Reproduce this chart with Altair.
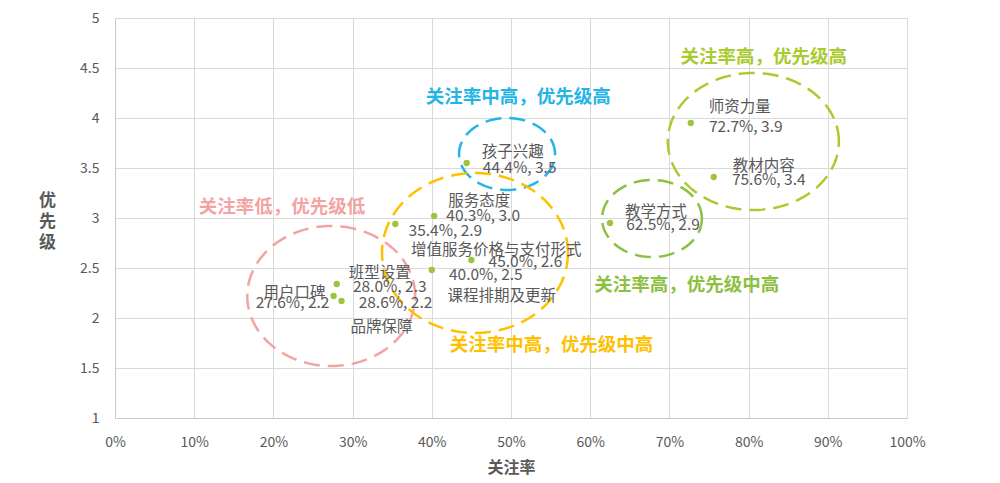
import altair as alt
import numpy as np
import pandas as pd

# ---- data ----
attention = [0.276, 0.280, 0.286, 0.354, 0.403, 0.400, 0.450, 0.444, 0.625, 0.727, 0.756]
priority = [2.22, 2.34, 2.17, 2.94, 3.02, 2.48, 2.58, 3.55, 2.95, 3.95, 3.41]
value_text = ["27.6%, 2.2", "28.0%, 2.3", "28.6%, 2.2", "35.4%, 2.9", "40.3%, 3.0",
              "40.0%, 2.5", "45.0%, 2.6", "44.4%, 3.5", "62.5%, 2.9", "72.7%, 3.9", "75.6%, 3.4"]
name_text = ["用户口碑", "班型设置", "品牌保障", "增值服务价格与支付形式", "服务态度",
             "课程排期及更新", "", "孩子兴趣", "教学方式", "师资力量", "教材内容"]

x_ticks = [i / 10 for i in range(11)]
y_ticks = [1, 1.5, 2, 2.5, 3, 3.5, 4, 4.5, 5]

group_labels = ["关注率中高，优先级高", "关注率高，优先级高", "关注率低，优先级低",
                "关注率高，优先级中高", "关注率中高，优先级中高"]
group_colors = ["#22B5E6", "#A8CB2E", "#F4A3A3", "#8CC13F", "#FFC000"]

# ---- layout (pixel offsets / positions, kept apart from the data) ----
W, H = 792, 400
PX_X = W  # pixels per unit of x (fraction)
PX_Y = H / 4.0  # pixels per unit of y

name_off = [(-39, -3), (43, -11), (40, 26), (101, 26), (45, -15), (70, 26), (0, 0),
            (46, -11), (46, -11), (49, -16), (50, -11)]
value_off = [(-41, 7), (53, 3), (54, 2), (50, 7), (49, 0), (54, 5), (54, 2),
             (53, 5), (53, 2), (55, 4), (55, 3)]

group_pos = [(0.509, 4.213), (0.819, 4.61), (0.211, 3.113), (0.722, 2.33), (0.551, 1.73)]
# ellipse: center x, center y, radius x, radius y, color index
ellipses = [(0.495, 3.64, 0.0606, 0.36, 0), (0.806, 3.765, 0.108, 0.685, 1),
            (0.273, 2.22, 0.106, 0.70, 2), (0.678, 2.995, 0.063, 0.385, 3),
            (0.4545, 2.65, 0.1174, 0.80, 4)]

points = pd.DataFrame({"x": attention, "y": priority})

rows = []
for i in range(len(attention)):
    if name_text[i]:
        dx, dy = name_off[i]
        rows.append({"t": name_text[i], "x": attention[i] + dx / PX_X, "y": priority[i] - dy / PX_Y})
    dx, dy = value_off[i]
    rows.append({"t": value_text[i], "x": attention[i] + dx / PX_X, "y": priority[i] - dy / PX_Y})
labels = pd.DataFrame(rows)

groups = pd.DataFrame({"t": group_labels, "x": [p[0] for p in group_pos],
                       "y": [p[1] for p in group_pos], "c": group_labels})

erows = []
ang = np.linspace(0, 2 * np.pi, 121)
for k, (cx, cy, rx, ry, ci) in enumerate(ellipses):
    for j, a in enumerate(ang):
        erows.append({"e": group_labels[ci], "o": j, "x": cx + rx * np.cos(a), "y": cy + ry * np.sin(a)})
ell = pd.DataFrame(erows)

FONT = "Noto Sans CJK SC"
GREY = "#595959"

xs = alt.Scale(domain=[0, 1], nice=False, zero=False)
ys = alt.Scale(domain=[1, 5], nice=False, zero=False)
cscale = alt.Scale(domain=group_labels, range=group_colors)

base_pts = alt.Chart(points).mark_point(filled=True, size=40, color="#9DC43C", opacity=1).encode(
    x=alt.X("x:Q", scale=xs,
            axis=alt.Axis(values=x_ticks, format=".0%", title="关注率", grid=True,
                          gridColor="#D9D9D9", domainColor="#C8C8C8", tickSize=0, labelPadding=17,
                          labelFlush=False, labelOverlap=False,
                          labelFontSize=14, labelColor=GREY, labelFont=FONT,
                          titleFont=FONT, titleFontSize=16, titleFontWeight="bold", titleColor=GREY,
                          titleBaseline="middle", titleY=49)),
    y=alt.Y("y:Q", scale=ys,
            axis=alt.Axis(values=y_ticks, format="~g", title=["优", "先", "级"], grid=True,
                          gridColor="#D9D9D9", domainColor="#C8C8C8", tickSize=0, labelPadding=16,
                          labelFlush=False, labelOverlap=False,
                          labelFontSize=14, labelColor=GREY, labelFont=FONT,
                          titleFont=FONT, titleFontSize=17, titleFontWeight="bold", titleColor=GREY,
                          titleAngle=0, titleAlign="center", titleBaseline="middle",
                          titleX=-68, titleY=182, titleLineHeight=21)),
)

ell_layer = alt.Chart(ell).mark_line(strokeWidth=2.5, strokeDash=[16, 8]).encode(
    x=alt.X("x:Q", scale=xs), y=alt.Y("y:Q", scale=ys),
    color=alt.Color("e:N", scale=cscale, legend=None),
    detail="e:N", order="o:Q")

lab_layer = alt.Chart(labels).mark_text(font=FONT, fontSize=15.5, color=GREY, align="center",
                                        baseline="middle").encode(
    x=alt.X("x:Q", scale=xs), y=alt.Y("y:Q", scale=ys), text="t:N")

grp_layer = alt.Chart(groups).mark_text(font=FONT, fontSize=18.5, fontWeight="bold", align="center",
                                        baseline="middle").encode(
    x=alt.X("x:Q", scale=xs), y=alt.Y("y:Q", scale=ys), text="t:N",
    color=alt.Color("c:N", scale=cscale, legend=None))

chart = alt.layer(ell_layer, base_pts, lab_layer, grp_layer).properties(
    width=W, height=H,
    autosize=alt.AutoSizeParams(type="none"),
    padding={"left": 115, "top": 18, "right": 93, "bottom": 65},
    background="white",
).configure_view(stroke=None)

chart.save("out.html", embed_options={"renderer": "svg", "actions": False})
